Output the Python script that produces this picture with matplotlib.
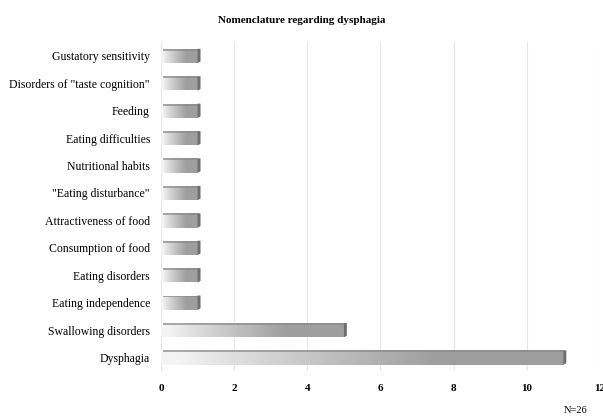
"""
Nomenclature regarding dysphagia - horizontal bar chart with shaded bars
"""

import matplotlib
matplotlib.use("Agg")
import matplotlib.pyplot as plt
from matplotlib.patches import Rectangle, Polygon
import numpy as np

plt.rcParams['font.family'] = ['Liberation Serif', 'DejaVu Serif']

terms = ["Gustatory sensitivity", 'Disorders of "taste cognition"', "Feeding",
         "Eating difficulties", "Nutritional habits", '"Eating disturbance"',
         "Attractiveness of food", "Consumption of food", "Eating disorders",
         "Eating independence", "Swallowing disorders", "Dysphagia"]
counts = [1, 1, 1, 1, 1, 1, 1, 1, 1, 1, 5, 11]
xticks = [0, 2, 4, 6, 8, 10, 12]


def shaded_bar(ax, y, v, h=0.52):
    # light on the left, mid grey on the right, like the spreadsheet 3D look
    grad = np.linspace(0, 1, 256)
    grad = np.clip((grad - 0.04) / 0.65, 0, 1) ** 0.9
    vals = 0.96 - 0.34 * grad
    img = np.dstack([vals, vals, vals])  # shape (1, 256, 3)
    im = ax.imshow(img, extent=[0, v, y - h / 2, y + h / 2], aspect='auto',
                   interpolation='bilinear', zorder=2)
    clip = Rectangle((0, y - h / 2), v, h, transform=ax.transData)
    im.set_clip_path(clip)
    # top face
    ax.add_patch(Rectangle((0.05, y + h / 2 - 0.07), v - 0.05, 0.07,
                           facecolor='#8a8a8a', edgecolor='none', zorder=3, alpha=0.7))
    # end cap
    dx = 0.08
    ax.add_patch(Polygon([(v, y - h / 2), (v + dx, y - h / 2 + 0.05),
                          (v + dx, y + h / 2), (v, y + h / 2)],
                         closed=True, facecolor='#6e6e6e', edgecolor='none', zorder=3))


fig = plt.figure(figsize=(6.03, 4.18), dpi=100)
ax = fig.add_axes([0.267, 0.112, 0.728, 0.787])

n = len(terms)
ypos = np.arange(n)[::-1]
for y, v in zip(ypos, counts):
    shaded_bar(ax, y, v)

ax.set_xlim(0, 12)
ax.set_ylim(-0.5, n - 0.5)
ax.set_xticks(xticks)
ax.set_xticklabels([str(t) for t in xticks], fontweight='bold', fontsize=8)
ax.set_yticks(ypos)
ax.set_yticklabels(terms, fontsize=8.5)
ax.tick_params(length=0)
ax.tick_params(axis='x', pad=9)
ax.tick_params(axis='y', pad=8)
for s in ax.spines.values():
    s.set_visible(False)
ax.grid(axis='x', color='#e6e6e6', linewidth=0.8, zorder=0)
ax.set_axisbelow(True)

fig.text(0.5, 0.952, "Nomenclature regarding dysphagia", ha='center', va='center',
         fontsize=8, fontweight='bold')
fig.text(0.955, 0.018, "N=26", ha='center', va='center', fontsize=7.5)

fig.savefig("out.png", dpi=100)
